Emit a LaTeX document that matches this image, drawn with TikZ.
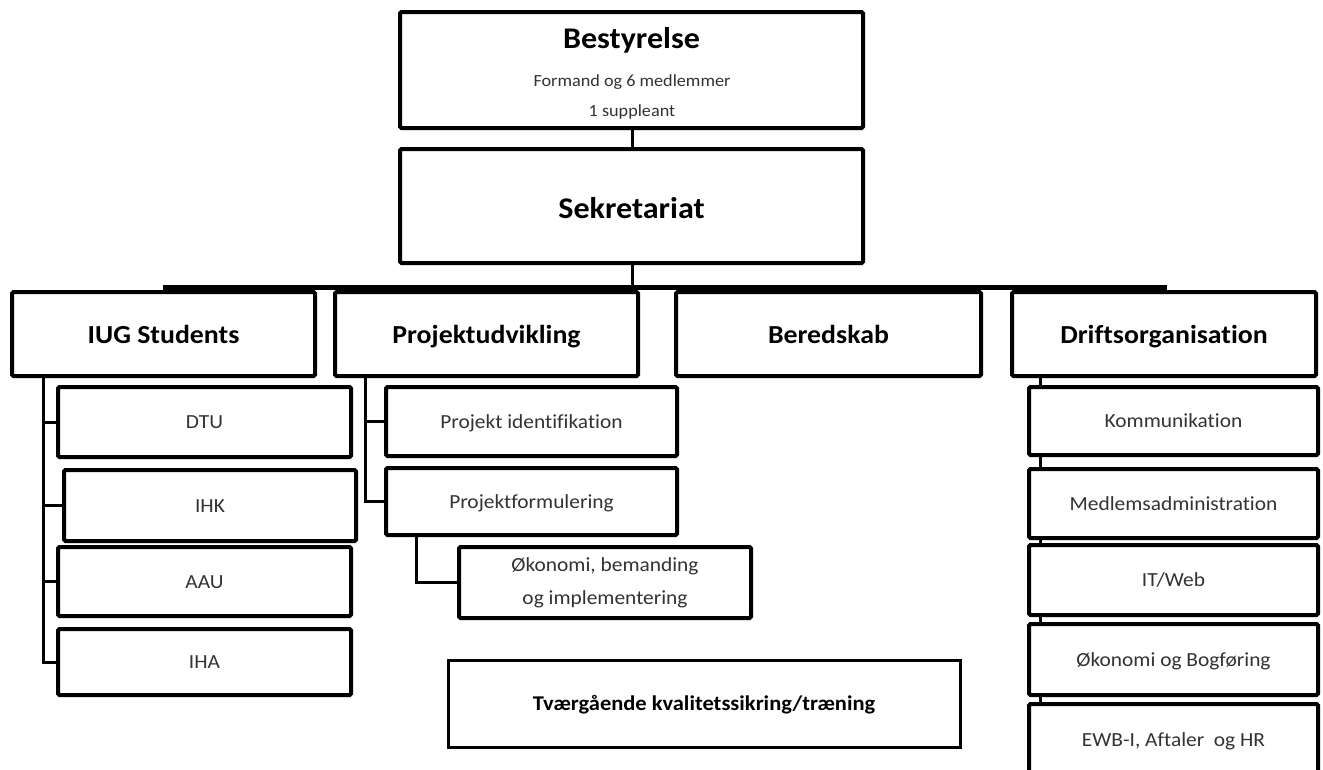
\documentclass[tikz,border=0pt]{standalone}
\usepackage{fontspec}
\setmainfont{Carlito}[FakeStretch=1.07, RawFeature={-liga;-clig}]
\usetikzlibrary{shadows}
\tikzset{
  box/.style={draw=black, line width=4pt, fill=white, rounded corners=1.5pt, inner sep=0pt,
    drop shadow={opacity=0.22, shadow xshift=1.5pt, shadow yshift=-2pt}},
  sz/.style 2 args={minimum width=#1pt, minimum height=#2pt},
  conn/.style={draw=black, line width=3pt},
  busline/.style={draw=black, line width=5pt},
  bigtitle/.style={font=\fontsize{30}{36}\selectfont\bfseries, text=black},
  midtitle/.style={font=\fontsize{26}{31}\selectfont\bfseries, text=black, text height=18pt, text depth=0pt},
  smalltxt/.style={font=\fontsize{20}{33}\selectfont, text=black!80},
  small/.style={smalltxt, text height=13pt, text depth=0pt},
  tiny/.style={font=\fontsize{17}{20}\selectfont, text=black!80},
}
\begin{document}
\begin{tikzpicture}[x=1pt, y=-1pt]
\useasboundingbox (0,0) rectangle (1323,769);

% helper coordinates
\coordinate (bx) at (632,0);
\coordinate (busL) at (163,287);
\coordinate (busR) at (1167,287);
\coordinate (lx) at (43,0);
\coordinate (px) at (365,0);
\coordinate (ox) at (416,0);
\coordinate (dx) at (1040,0);

% top boxes
\node[box, sz={463}{116}] (best) at (631.5,70) {};
\node[bigtitle, anchor=base] (bestT) at (631.5,48) {Bestyrelse};
\node[tiny, anchor=base] (bestA) at (632,86) {Formand og 6 medlemmer};
\node[tiny, anchor=base] (bestB) at (632,116) {1 suppleant};

\node[box, sz={463}{114}] (sek) at (631.5,206) {};
\node[bigtitle, anchor=base] (sekT) at (631.5,218) {Sekretariat};

% connectors top
\draw[conn] (best.south -| bx) -- (sek.north -| bx);
\draw[conn] (sek.south -| bx) -- (bx |- busL);

% second level
\node[box, sz={303}{84}, midtitle] (iug) at (163.5,334) {IUG Students};
\node[box, sz={303}{84}, midtitle] (proj) at (486.5,334) {Projektudvikling};
\node[box, sz={305}{84}, midtitle] (bered) at (828.5,334) {Beredskab};
\node[box, sz={304}{84}, midtitle] (drift) at (1164,334) {Driftsorganisation};

\draw[busline] (busL) -- (busR);

% connectors to sub boxes
\draw[conn] (iug.south -| lx) -- (lx |- 0,662) -- (58,662);
\draw[conn] (lx |- 0,422) -- (58,422);
\draw[conn] (lx |- 0,505.5) -- (64,505.5);
\draw[conn] (lx |- 0,581.5) -- (58,581.5);

\draw[conn] (proj.south -| px) -- (px |- 0,501.5) -- (386,501.5);
\draw[conn] (px |- 0,421.5) -- (386,421.5);

\draw[conn] (dx |- drift.south) -- (dx |- 0,760);

% IUG sub boxes
\node[box, sz={293}{70}, small] (dtu) at (204.5,422) {DTU};
\node[box, sz={292}{71}, small] (ihk) at (210,505.5) {IHK};
\node[box, sz={293}{69}, small] (aau) at (204.5,581.5) {AAU};
\node[box, sz={293}{66}, small] (iha) at (204.5,662) {IHA};

% Projekt sub boxes
\node[box, sz={291}{69}, small] (pid) at (531.5,421.5) {Projekt identifikation};
\node[box, sz={291}{67}, small] (pform) at (531.5,501.5) {Projektformulering};
\draw[conn] (pform.south -| ox) -- (ox |- 0,582.5) -- (459,582.5);
\node[box, sz={292}{71}, smalltxt, align=center] (oko) at (605,582.5) {Økonomi, bemanding\\og implementering};

% Drift sub boxes
\node[box, sz={289}{68}, small] (komm) at (1173.5,421) {Kommunikation};
\node[box, sz={289}{69}, small] (medl) at (1173.5,503.5) {Medlemsadministration};
\node[box, sz={289}{70}, small] (itweb) at (1173.5,580) {IT/Web};
\node[box, sz={289}{71}, small] (okob) at (1173.5,659.5) {Økonomi og Bogføring};
\node[box, sz={289}{72}, small] (ewb) at (1173.5,740) {EWB-I, Aftaler~ og HR};

% cross-cutting box
\node[draw=black, line width=3pt, fill=white, inner sep=0pt, sz={512}{87},
      font=\fontsize{21}{25}\selectfont\bfseries, text=black, text height=14pt, text depth=0pt] (tv) at (704,703.5)
      {Tværgående kvalitetssikring/træning};
\end{tikzpicture}
\end{document}
